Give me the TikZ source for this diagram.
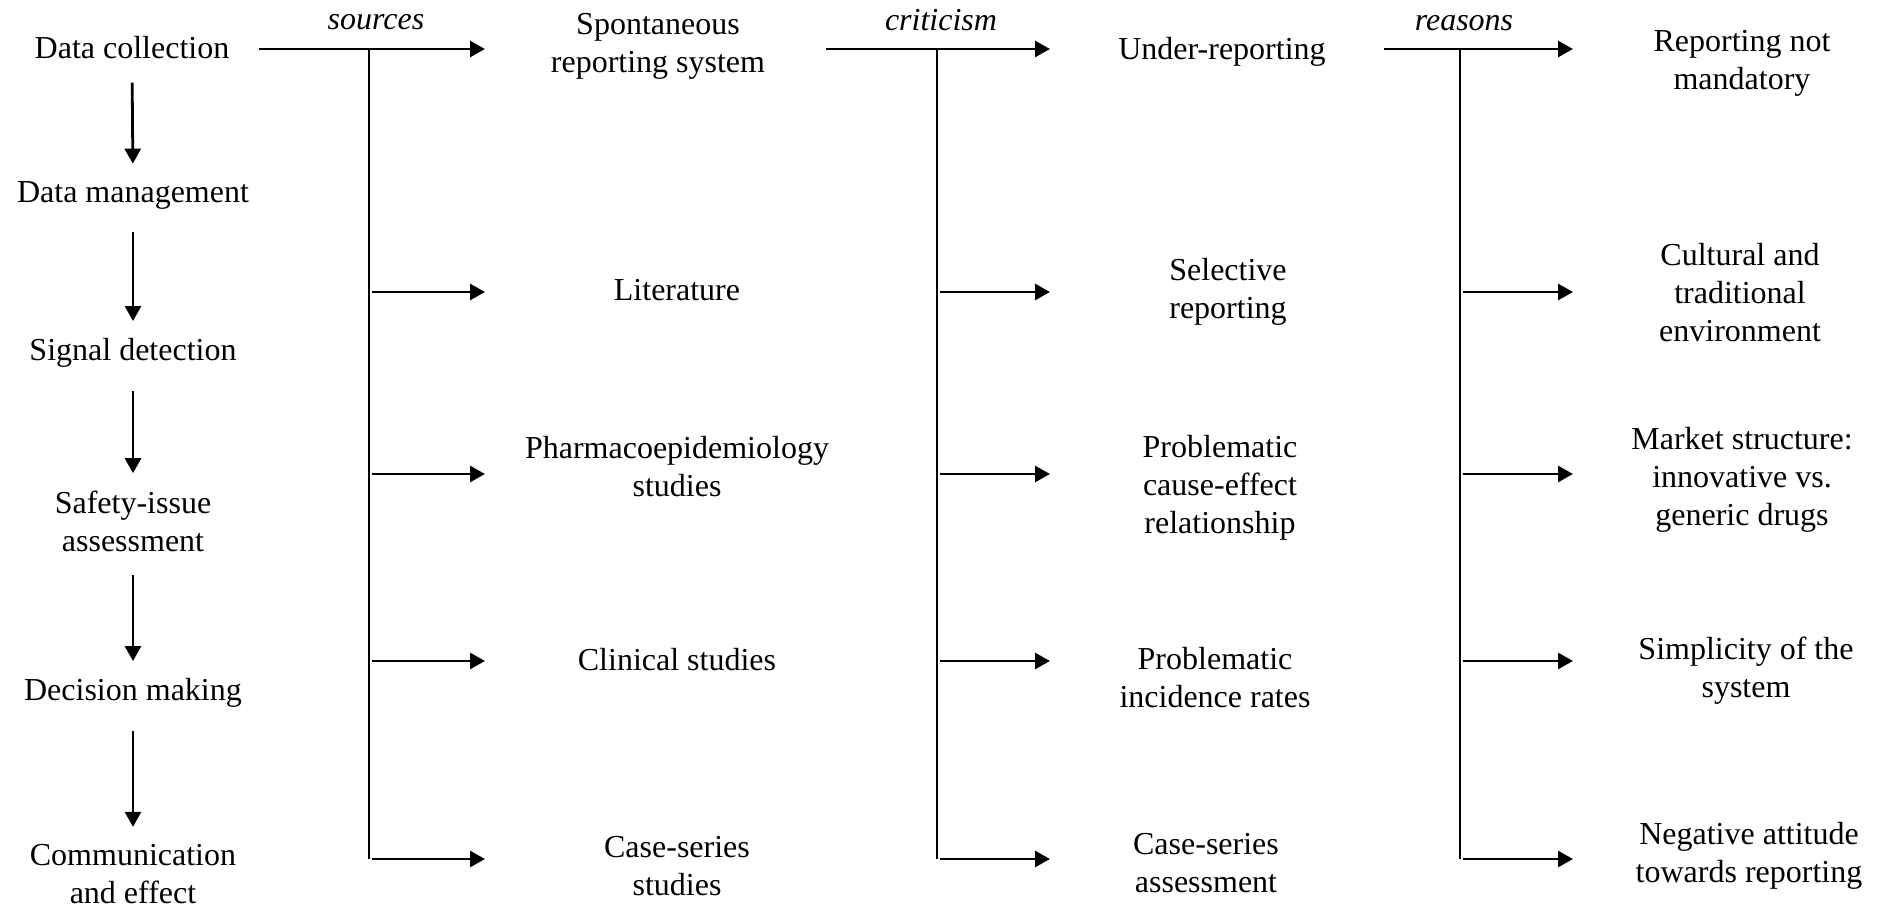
\documentclass[tikz,border=0pt]{standalone}
\usepackage{fontspec}
\setmainfont{Liberation Serif}
\usetikzlibrary{arrows.meta}

\begin{document}
\begin{tikzpicture}[x=0.5pt,y=-0.5pt,>={Triangle[length=7.5pt,width=8pt]},line width=1.4pt]
	\tikzstyle{txt}=[align=center,inner sep=0pt,font=\fontsize{16}{19}\selectfont]
	\tikzstyle{lbl}=[inner sep=0pt,font=\fontsize{16}{19}\selectfont\itshape]
	\tikzstyle{trunk}=[line width=1pt]
	\useasboundingbox (0,0) rectangle (1886,908);

	% process steps
	\node[txt] (dc) at (132,48) {Data collection};
	\node[txt] (dm) at (133,195) {Data management};
	\node[txt] (sd) at (133,353) {Signal detection};
	\node[txt] (sa) at (133,521) {Safety-issue\\assessment};
	\node[txt] (dmk) at (133,693) {Decision making};
	\node[txt] (ce) at (133,874) {Communication\\and effect};

	\foreach \a/\b in {dc/dm,dm/sd,sd/sa,sa/dmk,dmk/ce}
		\draw[->,shorten <=11pt,shorten >=8pt] (\a.south) -- (\b.north);

	% sources
	\node[txt] (srs) at (658,46) {Spontaneous\\reporting system};
	\node[txt] (lit) at (677,290) {Literature};
	\node[txt] (phe) at (677,467) {Pharmacoepidemiology\\studies};
	\node[txt] (cli) at (677,660) {Clinical studies};
	\node[txt] (css) at (677,866) {Case-series\\studies};

	% criticism
	\node[txt] (und) at (1222,52) {Under-reporting};
	\node[txt] (sel) at (1228,292) {Selective\\reporting};
	\node[txt] (pce) at (1220,488) {Problematic\\cause-effect\\relationship};
	\node[txt] (pir) at (1215,678) {Problematic\\incidence rates};
	\node[txt] (csa) at (1206,863) {Case-series\\assessment};

	% reasons
	\node[txt] (rnm) at (1742,63) {Reporting not\\mandatory};
	\node[txt] (cte) at (1740,293) {Cultural and\\traditional\\environment};
	\node[txt] (mks) at (1742,480) {Market structure:\\innovative vs.\\generic drugs};
	\node[txt] (sim) at (1746,671) {Simplicity of the\\system};
	\node[txt] (neg) at (1749,856) {Negative attitude\\towards reporting};

	\node[lbl] (lsrc) at (376,22) {sources};
	\node[lbl] (lcri) at (941,20) {criticism};
	\node[lbl] (lrea) at (1464,23) {reasons};

	% trunks and branches
	\foreach \c/\xa/\xt/\xb in {s/259/369/485,c/826/937/1050,r/1384/1460/1573} {
		\coordinate (\c in) at (\xa,49);
		\coordinate (\c top) at (\xt,49);
		\coordinate (\c out) at (\xb,49);
		\draw[->] (\c in) -- (\c out);
		\foreach \i/\y in {1/292,2/474,3/661,4/859} {
			\coordinate (\c\i) at (\xt,\y);
			\coordinate (\c\i t) at (\xb,\y);
			\draw[->,shorten <=1.5pt] (\c\i) -- (\c\i t);
		}
		\draw[trunk] (\c top) -- (\c4);
	}
\end{tikzpicture}
\end{document}
